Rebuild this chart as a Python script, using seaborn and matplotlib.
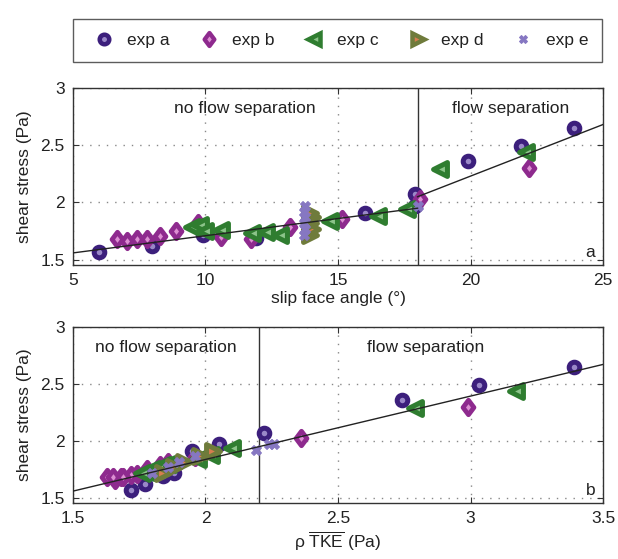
import numpy as np
import pandas as pd
import matplotlib
matplotlib.use("Agg")
import matplotlib.pyplot as plt
from matplotlib.lines import Line2D
from matplotlib.path import Path
import seaborn as sns

# ---- data ----
exps = ["exp a", "exp b", "exp c", "exp d", "exp e"]

# panel a: slip face angle (deg) vs shear stress (Pa)
angle_a = [6.0, 8.0, 9.9, 11.9, 16.0, 17.9, 17.9, 19.9, 21.9, 23.9]
tau_a = [1.57, 1.62, 1.72, 1.69, 1.91, 2.07, 1.97, 2.36, 2.49, 2.65]
angle_b = [6.65, 7.05, 7.4, 7.8, 8.3, 8.9, 9.7, 10.6, 11.7, 13.2, 15.15, 18.1, 22.2]
tau_b = [1.68, 1.66, 1.68, 1.68, 1.71, 1.75, 1.82, 1.70, 1.68, 1.79, 1.86, 2.03, 2.30]
angle_c = [9.5, 9.8, 10.0, 10.6, 11.75, 12.3, 12.8, 14.7, 16.5, 17.6, 18.85, 22.1]
tau_c = [1.79, 1.80, 1.75, 1.76, 1.73, 1.74, 1.72, 1.84, 1.88, 1.94, 2.29, 2.44]
angle_d = [13.95, 14.0, 13.95, 14.0, 13.95]
tau_d = [1.72, 1.77, 1.82, 1.87, 1.91]
angle_e = [13.7, 13.75, 13.7, 13.75, 13.7, 13.75, 18.0]
tau_e = [1.72, 1.77, 1.82, 1.87, 1.92, 1.97, 1.97]

# panel b: rho*TKE (Pa), same shear stresses
tke_a = [1.72, 1.77, 1.88, 1.84, 1.95, 2.22, 2.05, 2.74, 3.03, 3.39]
tke_b = [1.63, 1.66, 1.68, 1.65, 1.74, 1.78, 1.86, 1.72, 1.69, 1.83, 1.96, 2.36, 2.99]
tke_c = [1.84, 1.86, 1.80, 1.82, 1.78, 1.79, 1.76, 1.97, 2.02, 2.10, 2.79, 3.17]
tke_d = [1.84, 1.88, 1.92, 1.98, 2.03]
tke_e = [1.80, 1.86, 1.90, 1.96, 2.19, 2.24, 2.26]

# linear fits (slope, intercept, x range)
fits_a = [(0.030, 1.41, 5, 18), (0.090, 0.43, 18, 25)]
fits_b = [(0.556, 0.726, 1.5, 3.5)]
sep_a = 18
sep_b = 2.2

# ---- styles ----
diamond = Path([(0, 1), (0.75, 0), (0, -1), (-0.75, 0), (0, 1)],
               [Path.MOVETO, Path.LINETO, Path.LINETO, Path.LINETO, Path.CLOSEPOLY])
styles = {
    "exp a": dict(marker="o", face="#9a88c8", edge="#3c1f7c", s=58, lw=3.6),
    "exp b": dict(marker=diamond, face="#dc8fd2", edge="#8e2a8e", s=110, lw=3.4),
    "exp c": dict(marker="<", face="#8cc48a", edge="#2f7d30", s=100, lw=3.6),
    "exp d": dict(marker=">", face="#d77d4f", edge="#6f7b3b", s=100, lw=3.6),
    "exp e": dict(marker="X", face="#8677c2", edge="#8677c2", s=50, lw=0.8),
}

plt.rcParams["font.family"] = ["Liberation Sans", "DejaVu Sans"]
plt.rcParams["mathtext.fontset"] = "custom"
plt.rcParams["mathtext.rm"] = "Liberation Sans"

fig = plt.figure(figsize=(6.18, 5.59), dpi=100)
ax1 = fig.add_axes([0.118, 0.526, 0.858, 0.317])
ax2 = fig.add_axes([0.118, 0.100, 0.858, 0.315])

panel_a = {"exp a": (angle_a, tau_a), "exp b": (angle_b, tau_b), "exp c": (angle_c, tau_c),
           "exp d": (angle_d, tau_d), "exp e": (angle_e, tau_e)}
panel_b = {"exp a": (tke_a, tau_a), "exp b": (tke_b, tau_b), "exp c": (tke_c, tau_c),
           "exp d": (tke_d, tau_d), "exp e": (tke_e, tau_e)}


def draw(ax, data, fits, sep, xlim, xticks, xlabel, letter, texts):
    for ex in exps:
        st = styles[ex]
        df = pd.DataFrame({"x": data[ex][0], "y": data[ex][1]})
        sns.scatterplot(data=df, x="x", y="y", ax=ax, marker=st["marker"], s=st["s"],
                        color=st["face"], edgecolor=st["edge"], linewidth=st["lw"],
                        zorder=3, legend=False)
    for slope, icpt, x0, x1 in fits:
        xx = np.array([x0, x1])
        sns.lineplot(x=xx, y=slope * xx + icpt, ax=ax, color="#222222", lw=1.0, zorder=4)
    ax.axvline(sep, color="#333333", lw=1.0, zorder=2)
    ax.set_xlim(*xlim)
    ax.set_ylim(1.455, 3)
    ax.set_xticks(xticks)
    ax.set_xticklabels([f"{t:g}" for t in xticks])
    ax.set_yticks([1.5, 2, 2.5, 3])
    ax.set_yticklabels(["1.5", "2", "2.5", "3"])
    ax.grid(True, linestyle=(0, (1, 5)), color="#888888", lw=1.0)
    ax.tick_params(direction="in", top=True, right=True, labelsize=12.5, length=4, pad=6,
                   colors="#333333", labelcolor="#222222")
    for sp in ax.spines.values():
        sp.set_color("#333333")
        sp.set_linewidth(1.0)
    ax.set_xlabel(xlabel, fontsize=12.5, labelpad=2, color="#222222")
    ax.set_ylabel("shear stress (Pa)", fontsize=12.5, labelpad=6, color="#222222")
    ax.text(0.985, 0.03, letter, transform=ax.transAxes, ha="right", va="bottom",
            fontsize=12.5, color="#222222")
    for tx, ty, s in texts:
        ax.text(tx, ty, s, ha="center", va="center", fontsize=12.5, color="#222222")


draw(ax1, panel_a, fits_a, sep_a, (5, 25), [5, 10, 15, 20, 25],
     "slip face angle (\u00b0)", "a",
     [(11.5, 2.82, "no flow separation"), (21.5, 2.82, "flow separation")])
draw(ax2, panel_b, fits_b, sep_b, (1.5, 3.5), [1.5, 2, 2.5, 3, 3.5],
     "\u03c1 $\\overline{\\mathrm{TKE}}$ (Pa)", "b",
     [(1.85, 2.82, "no flow separation"), (2.83, 2.82, "flow separation")])

handles = []
for ex in exps:
    st = styles[ex]
    ms = np.sqrt(st["s"]) * 0.9
    handles.append(Line2D([], [], linestyle="None", marker=st["marker"], markersize=ms,
                          markerfacecolor=st["face"], markeredgecolor=st["edge"],
                          markeredgewidth=st["lw"] * 0.9, label=ex))
leg = fig.legend(handles=handles, loc="lower left", ncol=5, mode="expand",
                 bbox_to_anchor=(0.118, 0.889, 0.856, 0.087), fontsize=12.5,
                 frameon=True, fancybox=False, edgecolor="#333333",
                 handletextpad=0.3, borderaxespad=0.0, borderpad=0.8)
leg.get_frame().set_linewidth(1.0)
for t in leg.get_texts():
    t.set_color("#222222")

fig.savefig("out.png", dpi=100)
